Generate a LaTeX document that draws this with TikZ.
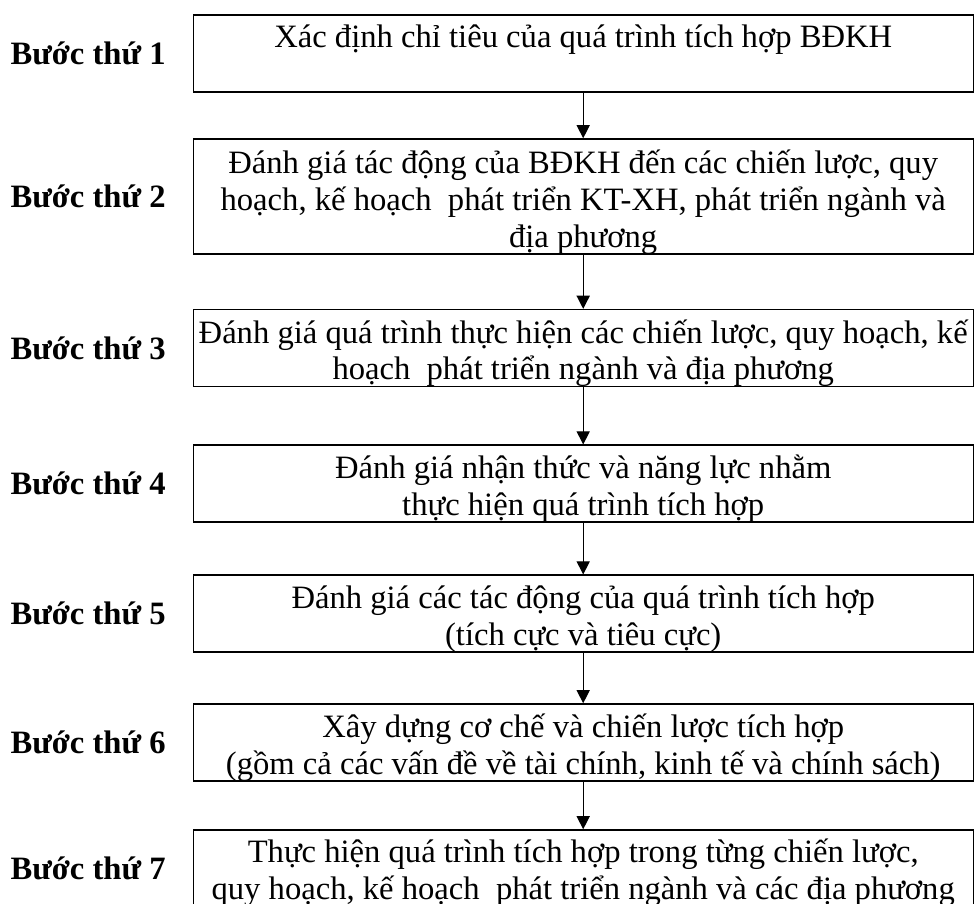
\documentclass[tikz,border=0pt]{standalone}
\usepackage{fontspec}
\setmainfont{Liberation Serif}
\usetikzlibrary{positioning, arrows.meta}
\setlength{\lineskiplimit}{-20pt}
\newcommand{\stepfont}{\fontsize{23.2}{26.2}\selectfont\lineskiplimit=-20pt\relax}

\begin{document}
\begin{tikzpicture}[
      every node/.style={font=\stepfont},
      block/.style={draw, line width=0.9pt, minimum width=19.5cm,
                    minimum height=1.925cm, inner sep=0pt},
      boxtext/.style={align=center, inner sep=0pt},
      steplabel/.style={font=\stepfont\bfseries},
      >={Triangle[length=0.33cm, width=0.33cm]},
    ]
    \useasboundingbox (0,0) rectangle (24.35,-22.6);

    \node[block] (s1) at (14.58, -1.34)  {};
    \node[block, minimum height=2.875cm]
                 (s2) at (14.58, -4.91)  {};
    \node[block] (s3) at (14.58, -8.70)  {};
    \node[block] (s4) at (14.58, -12.09) {};
    \node[block] (s5) at (14.58, -15.34) {};
    \node[block] (s6) at (14.58, -18.56) {};
    \node[block] (s7) at (14.58, -21.71) {};

    \node[boxtext] (t1) at ([yshift=-0.16cm]s1.center) {Xác định chỉ tiêu của quá trình tích hợp BĐKH\\ \strut};
    \node[boxtext] (t2) at ([yshift=-0.15cm]s2.center) {Đánh giá tác động của BĐKH đến các chiến lược, quy\\
                                          hoạch, kế hoạch~ phát triển KT-XH, phát triển ngành và\\
                                          địa phương};
    \node[boxtext] (t3) at ([yshift=-0.13cm]s3.center) {Đánh giá quá trình thực hiện các chiến lược, quy hoạch, kế\\
                                          hoạch~ phát triển ngành và địa phương};
    \node[boxtext] (t4) at ([yshift=-0.13cm]s4.center) {Đánh giá nhận thức và năng lực nhằm\\
                                          thực hiện quá trình tích hợp};
    \node[boxtext] (t5) at ([yshift=-0.13cm]s5.center) {Đánh giá các tác động của quá trình tích hợp\\
                                          (tích cực và tiêu cực)};
    \node[boxtext] (t6) at ([yshift=-0.14cm]s6.center) {Xây dựng cơ chế và chiến lược tích hợp\\
                                          (gồm cả các vấn đề về tài chính, kinh tế và chính sách)};
    \node[boxtext] (t7) at ([yshift=-0.11cm]s7.center) {Thực hiện quá trình tích hợp trong từng chiến lược,\\
                                          quy hoạch, kế hoạch~ phát triển ngành và các địa phương};

    \node[steplabel, left=0.55cm of s1] (l1) {Bước thứ 1};
    \node[steplabel, left=0.55cm of s2] (l2) {Bước thứ 2};
    \node[steplabel, left=0.55cm of s3] (l3) {Bước thứ 3};
    \node[steplabel, left=0.55cm of s4] (l4) {Bước thứ 4};
    \node[steplabel, left=0.55cm of s5] (l5) {Bước thứ 5};
    \node[steplabel, left=0.55cm of s6] (l6) {Bước thứ 6};
    \node[steplabel, left=0.55cm of s7] (l7) {Bước thứ 7};

    \draw[->, line width=0.9pt] (s1) -- (s2);
    \draw[->, line width=0.9pt] (s2) -- (s3);
    \draw[->, line width=0.9pt] (s3) -- (s4);
    \draw[->, line width=0.9pt] (s4) -- (s5);
    \draw[->, line width=0.9pt] (s5) -- (s6);
    \draw[->, line width=0.9pt] (s6) -- (s7);
  \end{tikzpicture}
\end{document}
